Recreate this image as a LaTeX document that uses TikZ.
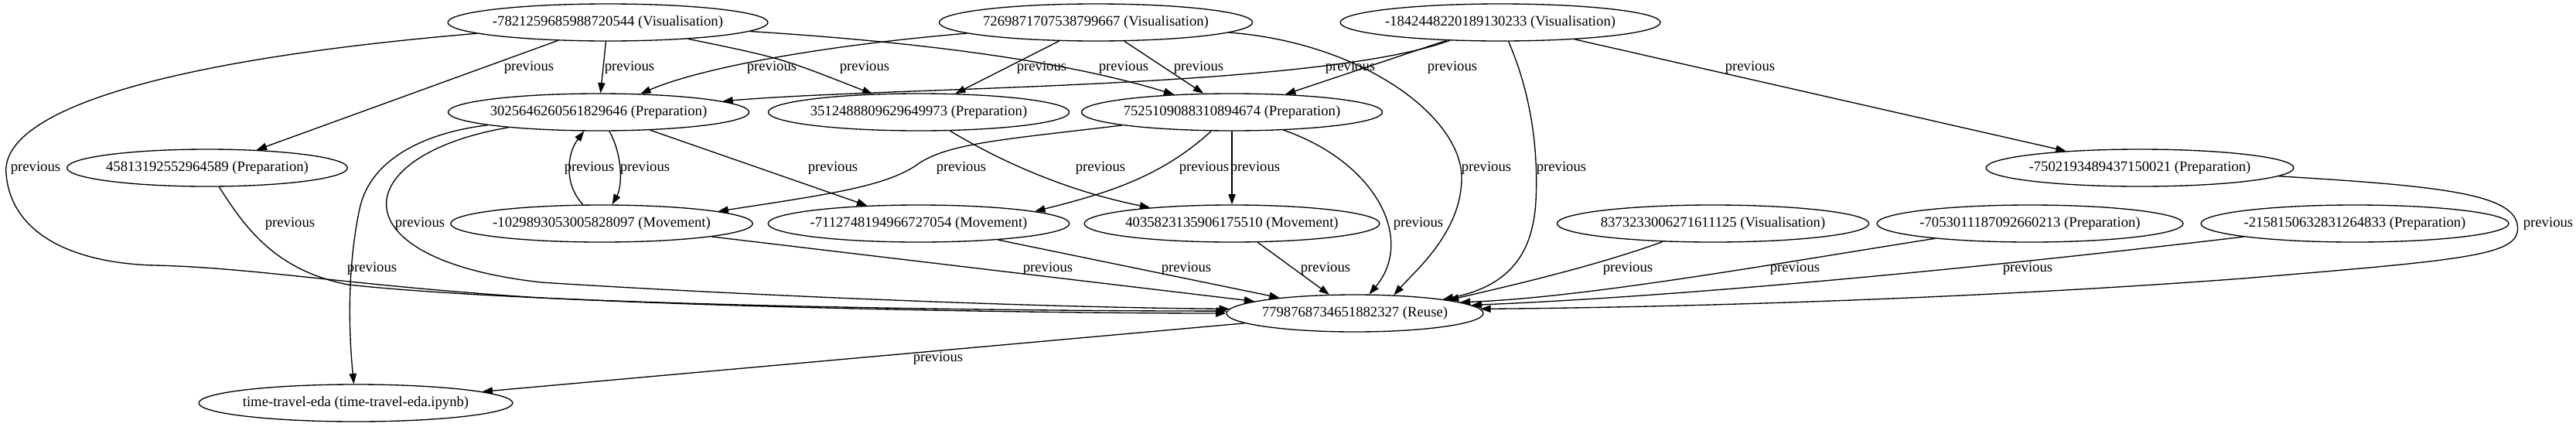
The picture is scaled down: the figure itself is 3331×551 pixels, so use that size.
\documentclass[tikz,border=0pt]{standalone}
\usepackage{fontspec}
\setmainfont{Liberation Serif}
\usetikzlibrary{arrows.meta,shapes.geometric}

\begin{document}
\begin{tikzpicture}[x=0.75pt, y=-0.75pt,
        every node/.style={font=\fontsize{14}{16}\selectfont},
        stage/.style={draw, ellipse, line width=1pt, inner xsep=-2pt, inner ysep=0pt, minimum height=36pt},
        edge/.style={line width=1pt, -{Triangle[length=10pt,width=7pt]}},
        lbl/.style={inner sep=0pt}]
        \useasboundingbox (0,0) rectangle (3331,551);
        % top row
        \node[stage] (v1) at (786,29) {-7821259685988720544 (Visualisation)};
        \node[stage] (v2) at (1417,29) {7269871707538799667 (Visualisation)};
        \node[stage] (v3) at (1940,29) {-1842448220189130233 (Visualisation)};
        % preparation
        \node[stage] (p1) at (774,145) {3025646260561829646 (Preparation)};
        \node[stage] (p3) at (1188,145) {3512488809629649973 (Preparation)};
        \node[stage] (p4) at (1593,145) {7525109088310894674 (Preparation)};
        \node[stage] (p2) at (268,217) {45813192552964589 (Preparation)};
        \node[stage] (p7) at (2767,217) {-7502193489437150021 (Preparation)};
        % movement and others
        \node[stage] (m1) at (778,289) {-1029893053005828097 (Movement)};
        \node[stage] (m2) at (1188,289) {-7112748194966727054 (Movement)};
        \node[stage] (m3) at (1593,289) {4035823135906175510 (Movement)};
        \node[stage] (v4) at (2215,289) {8373233006271611125 (Visualisation)};
        \node[stage] (p5) at (2625,289) {-7053011187092660213 (Preparation)};
        \node[stage] (p6) at (3045,289) {-2158150632831264833 (Preparation)};
        \node[stage] (r) at (1752,405) {7798768734651882327 (Reuse)};
        \node[stage] (t) at (460,521) {time-travel-eda (time-travel-eda.ipynb)};
        % straight edges
        \foreach \a/\b/\lx/\ly in {v1/p2/684/87, v1/p1/814/87, v2/p3/1347/87,
                v2/p4/1550/87, v3/p4/1878/87, v3/p7/2263/87, p1/m2/1077/217,
                p4/m3/1623/217, m1/r/1355/347, m2/r/1534/347, m3/r/1714/347,
                r/t/1213/463}
        \draw[edge] (\a) -- (\b) node[lbl] at (\lx,\ly) {previous};
        % curved edges
        \draw[edge] (v1) .. controls (1010,75) .. (p3) node[lbl] at (1118,87) {previous};
        \draw[edge] (v1) .. controls (1200,55) and (1380,80) .. (p4) node[lbl] at (1453,87) {previous};
        \draw[edge] (v1) .. controls (180,80) and (0,150) .. (8,225)
                .. controls (14,300) and (90,340) .. (200,343)
                .. controls (330,346) and (460,370) .. (700,385)
                .. controls (1000,400) and (1400,405) .. (r.180) node[lbl] at (46,217) {previous};
        \draw[edge] (v2) .. controls (1050,60) and (900,90) .. (p1) node[lbl] at (998,87) {previous};
        \draw[edge] (v2) .. controls (1760,55) and (1890,150) .. (1890,230)
                .. controls (1890,300) and (1830,350) .. (r.25) node[lbl] at (1922,217) {previous};
        \draw[edge] (v3) .. controls (1975,110) and (1990,180) .. (1986,260)
                .. controls (1982,330) and (1950,370) .. (r.9) node[lbl] at (2019,217) {previous};
        \draw[edge] (v3) .. controls (1700,115) and (1150,112) .. (p1) node[lbl] at (1746,87) {previous};
        \draw[edge] (p1) .. controls (805,200) and (805,240) .. (m1) node[lbl] at (834,217) {previous};
        \draw[edge] (m1) .. controls (730,240) and (732,200) .. (p1) node[lbl] at (762,217) {previous};
        \draw[edge] (p1) .. controls (560,170) and (480,200) .. (465,270)
                .. controls (450,340) and (450,420) .. (t) node[lbl] at (481,347) {previous};
        \draw[edge] (p1) .. controls (450,200) and (430,335) .. (700,365)
                .. controls (900,378) and (1300,397) .. (r.178) node[lbl] at (543,289) {previous};
        \draw[edge] (p2) .. controls (320,300) and (360,350) .. (450,368)
                .. controls (700,395) and (1300,402) .. (r.179) node[lbl] at (375,289) {previous};
        \draw[edge] (p3) .. controls (1330,230) and (1420,255) .. (m3.169) node[lbl] at (1423,217) {previous};
        \draw[edge] (p4) .. controls (1300,180) and (1230,185) .. (1190,210)
                .. controls (1150,240) and (1080,250) .. (m1.6) node[lbl] at (1243,217) {previous};
        \draw[edge] (p4) .. controls (1500,230) and (1430,250) .. (m2.6) node[lbl] at (1557,217) {previous};
        \draw[edge] (p4) .. controls (1780,210) and (1830,310) .. (r.53) node[lbl] at (1834,289) {previous};
        \draw[edge] (v4) .. controls (2060,345) and (1950,370) .. (r.8) node[lbl] at (2105,347) {previous};
        \draw[edge] (p5) .. controls (2300,340) and (2050,385) .. (r.6) node[lbl] at (2321,347) {previous};
        \draw[edge] (p6) .. controls (2700,330) and (2250,380) .. (r.4) node[lbl] at (2622,347) {previous};
        \draw[edge] (p7) .. controls (3150,240) and (3248,250) .. (3255,290)
                .. controls (3262,330) and (3200,335) .. (2900,360)
                .. controls (2500,390) and (2100,398) .. (r.2) node[lbl] at (3295,289) {previous};
\end{tikzpicture}
\end{document}
